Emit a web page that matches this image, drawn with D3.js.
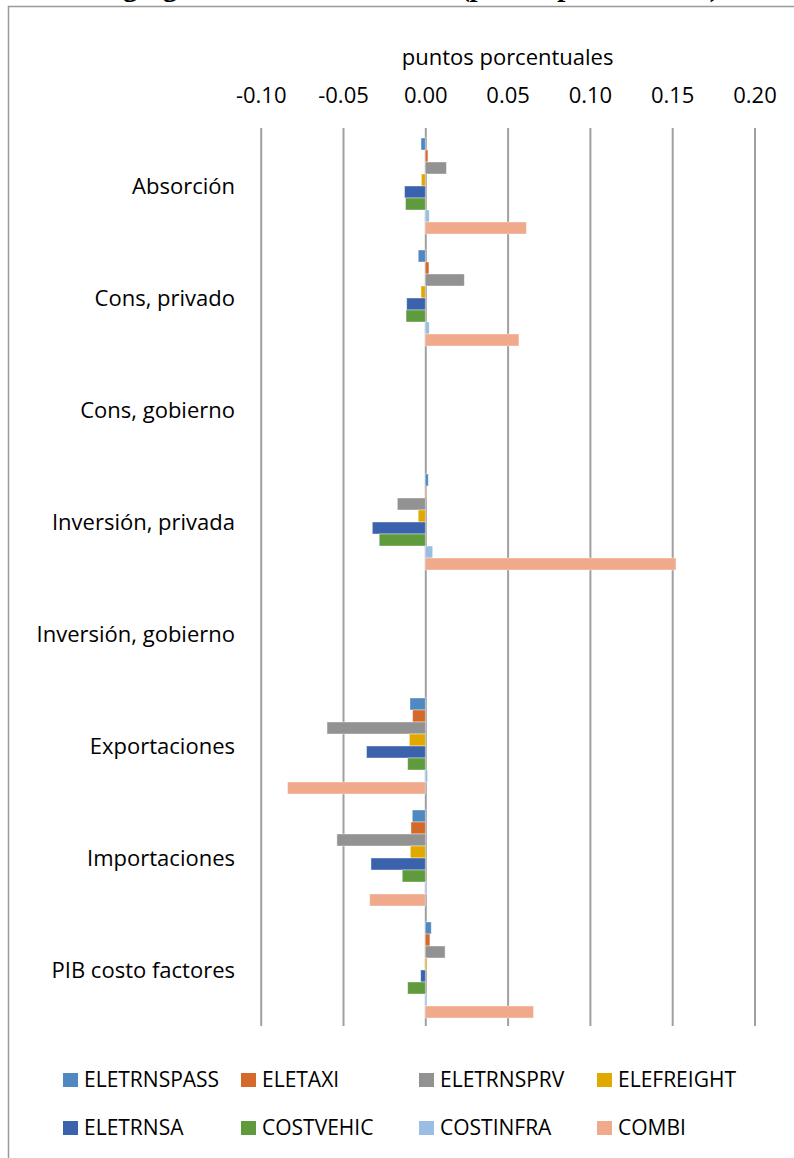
<!DOCTYPE html>
<html>
<head>
<meta charset="utf-8">
<script src="https://cdn.jsdelivr.net/npm/d3@7"></script>
<style>
  html, body { margin: 0; padding: 0; background: #fff; }
  svg { display: block; }
</style>
</head>
<body>
<svg id="chart" width="794" height="1158"></svg>
<script>
// ---- data ----
const categories = ["Absorción", "Cons, privado", "Cons, gobierno", "Inversión, privada",
  "Inversión, gobierno", "Exportaciones", "Importaciones", "PIB costo factores"];
const seriesNames = ["ELETRNSPASS", "ELETAXI", "ELETRNSPRV", "ELEFREIGHT",
  "ELETRNSA", "COSTVEHIC", "COSTINFRA", "COMBI"];
const ELETRNSPASS = [-0.0026, -0.0043, 0, 0.0018, 0, -0.0093, -0.0079, 0.0036];
const ELETAXI     = [0.0016, 0.0022, 0, 0.0005, 0, -0.0077, -0.0087, 0.0028];
const ELETRNSPRV  = [0.0128, 0.0237, 0, -0.0170, 0, -0.0597, -0.0537, 0.0120];
const ELEFREIGHT  = [-0.0024, -0.0026, 0, -0.0043, 0, -0.0097, -0.0091, 0.0010];
const ELETRNSA    = [-0.0126, -0.0113, 0, -0.0322, 0, -0.0357, -0.0330, -0.0028];
const COSTVEHIC   = [-0.0120, -0.0117, 0, -0.0280, 0, -0.0107, -0.0140, -0.0107];
const COSTINFRA   = [0.0024, 0.0024, 0, 0.0045, 0, 0.0014, 0.0010, 0.0010];
const COMBI       = [0.0614, 0.0569, 0, 0.1523, 0, -0.0837, -0.0338, 0.0658];
const tickValues = [-0.10, -0.05, 0.00, 0.05, 0.10, 0.15, 0.20];
const axisTitle = "puntos porcentuales";
const titleMain = "Efectos en agregados macroeconómicos ";
const titleUnits = "(puntos porcentuales)";

const seriesValues = [ELETRNSPASS, ELETAXI, ELETRNSPRV, ELEFREIGHT, ELETRNSA, COSTVEHIC, COSTINFRA, COMBI];
const colors = ["#4F89C0", "#D4692A", "#929292", "#E1A900", "#3A62AD", "#5F9A3C", "#9BBDE3", "#F1A98B"];

// ---- layout ----
const svg = d3.select("#chart");
const font = "'Open Sans', 'DejaVu Sans', sans-serif";
const plot = { left: 260.7, right: 754.5, top: 130, bottom: 1026 };

// outer frame (partially visible)
svg.append("path")
  .attr("d", `M8.5,1158 L8.5,6.5 L794,6.5`)
  .attr("fill", "none").attr("stroke", "#9a9a9a").attr("stroke-width", 1.5);

// cut-off title above the frame (only descenders visible, as in the reference)
svg.append("text").attr("x", 461).attr("y", -4)
  .attr("text-anchor", "end")
  .attr("font-family", "'Liberation Serif', 'Times New Roman', serif")
  .attr("font-weight", "bold").attr("font-size", 29)
  .text(titleMain);
svg.append("text").attr("x", 462).attr("y", -4)
  .attr("font-family", "'Liberation Serif', 'Times New Roman', serif")
  .attr("font-weight", "bold").attr("font-style", "italic").attr("font-size", 29)
  .text(titleUnits);

const x = d3.scaleLinear().domain([-0.10, 0.20]).range([plot.left, plot.right]);
const y = d3.scaleBand().domain(categories).range([plot.top, plot.bottom])
  .paddingInner(16 / 112).paddingOuter(8 / 112);
const ySub = d3.scaleBand().domain(seriesNames).range([0, y.bandwidth()]);

// gridlines + tick labels
const axis = d3.axisTop(x).tickValues(tickValues).tickFormat(d3.format(".2f"))
  .tickSize(-(plot.bottom - plot.top)).tickPadding(24);
const gAxis = svg.append("g").attr("transform", `translate(0,${plot.top - 2})`).call(axis);
gAxis.select(".domain").remove();
gAxis.selectAll(".tick line").attr("stroke", "#a0a0a0").attr("stroke-width", 2)
  .attr("y1", 0).attr("y2", plot.bottom - plot.top + 2);
gAxis.selectAll(".tick text")
  .attr("font-family", font).attr("font-size", 22).attr("fill", "#000")
  .attr("y", -25).attr("dy", 0)
  .text(d => d3.format(".2f")(d).replace("−", "-"));

// axis title
svg.append("text").attr("x", (plot.left + plot.right) / 2).attr("y", 65)
  .attr("text-anchor", "middle").attr("font-family", font).attr("font-size", 22)
  .text(axisTitle);

// bars
const rows = [];
categories.forEach((c, i) => {
  seriesNames.forEach((s, j) => rows.push({ cat: c, ser: s, v: seriesValues[j][i], color: colors[j] }));
});
svg.append("g").selectAll("rect").data(rows.filter(d => d.v !== 0)).join("rect")
  .attr("x", d => x(Math.min(0, d.v)))
  .attr("y", d => y(d.cat) + ySub(d.ser))
  .attr("width", d => Math.abs(x(d.v) - x(0)))
  .attr("height", ySub.bandwidth())
  .attr("fill", d => d.color)
  .attr("stroke", "#ffffff").attr("stroke-opacity", 0.5).attr("stroke-width", 0.8);

// category labels
svg.append("g").selectAll("text").data(categories).join("text")
  .attr("x", 235).attr("y", d => y(d) + y.bandwidth() / 2)
  .attr("dy", "0.35em").attr("text-anchor", "end")
  .attr("font-family", font).attr("font-size", 22).attr("fill", "#000")
  .text(d => d);

// legend
const legend = svg.append("g");
seriesNames.forEach((s, i) => {
  const col = i % 4, row = Math.floor(i / 4);
  const lx = 63 + col * 178, ly = 1080 + row * 48;
  legend.append("rect").attr("x", lx).attr("y", ly - 7).attr("width", 15).attr("height", 14)
    .attr("fill", colors[i]);
  legend.append("text").attr("x", lx + 21).attr("y", ly).attr("dy", "0.35em")
    .attr("font-family", font).attr("font-size", 21).attr("fill", "#000")
    .text(s);
});
</script>
</body>
</html>
